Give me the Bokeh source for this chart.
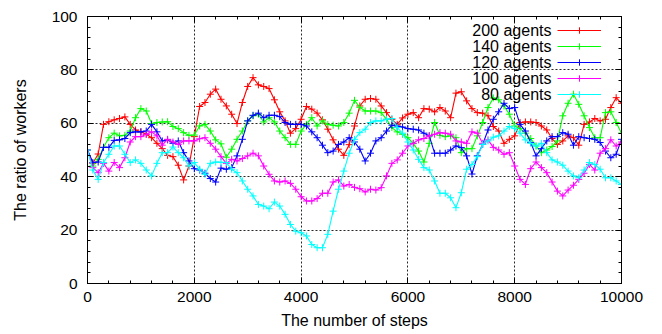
from bokeh.plotting import figure
from bokeh.models import Range1d, LinearAxis, SingleIntervalTicker, Legend, LegendItem, Label
from bokeh.embed import file_html
from bokeh.resources import INLINE

steps = list(range(0, 10001, 100))

agents_200 = [50, 45, 48.5, 59.6, 60.6, 61.3, 61.8, 62.4, 59.6, 57.5,
              56.8, 55.9, 54.6, 52.5, 50.5, 48, 47.5, 44.3, 38.8, 44,
              55, 66.3, 67.8, 70.9, 72.8, 69, 66.5, 63.4, 59.9, 67.8,
              73.8, 77.1, 74.4, 73.8, 73, 68.8, 64.3, 60.9, 56.3, 58,
              61.5, 66.3, 65.3, 63.8, 61.3, 57.8, 53.8, 50.3, 48, 52,
              59, 66.5, 69, 69.3, 69, 66.5, 64, 61.5, 59.6, 62,
              63.4, 64, 62.1, 65.5, 65.3, 64.3, 65.9, 64.6, 62.1, 71.3,
              71.8, 68.4, 65.5, 64, 63.8, 62.8, 58.8, 57.1, 52.5, 54,
              55.3, 60.3, 60.5, 60.5, 60.3, 59, 57.5, 54.3, 52.1, 53.4,
              55.3, 54.6, 51.8, 59.6, 60.5, 61.8, 60.9, 61.5, 65.9, 69.6,
              67.5]

agents_140 = [50, 44, 46.5, 51, 54.6, 56.3, 55.3, 55.5, 57.1, 62.1,
              65.5, 64.6, 59.9, 60.3, 60.5, 60.6, 58.8, 58, 56.5, 55.5,
              55.6, 59, 59.6, 57.1, 53.8, 52.3, 47.3, 50.3, 54, 57.1,
              60.9, 62.8, 63.4, 60.5, 62.1, 60.5, 57.1, 54.6, 52.1, 52.1,
              57.1, 59.6, 62.1, 59, 60.9, 59.6, 59.3, 59, 60.3, 63.8,
              68.6, 66, 64.6, 64.6, 64.6, 64, 61.5, 58.4, 56.8, 55.9,
              54.6, 52.5, 49.6, 45.5, 52.5, 60.3, 55.5, 55, 55.3, 54.6,
              49, 50.5, 50.5, 55.3, 60.3, 65.9, 69.5, 68.8, 66.5, 63.4,
              59, 58, 56.3, 54.3, 51.5, 49, 50, 51.3, 53.4, 62.8,
              67.5, 70.9, 67.1, 62.8, 58.4, 54.6, 54.6, 64, 64.3, 60.3,
              56.3]

agents_120 = [50, 45.3, 45.5, 51, 51, 53.6, 53.8, 54.3, 56.5, 56.8,
              56.8, 57.1, 59.6, 56.8, 53.4, 53.8, 52.5, 53.4, 49, 45.9,
              43, 42.5, 41.3, 39.3, 38, 43.2, 42.8, 43.4, 47.8, 54,
              60.9, 63, 63.8, 62.1, 63, 63, 62.5, 60.3, 59.6, 59.6,
              59.6, 59, 56.8, 54.6, 51.8, 49, 49.6, 52.1, 53, 54.6,
              53, 50.3, 45.9, 48.8, 53.4, 54.6, 57.1, 59.3, 59, 58.6,
              58, 57.8, 57.5, 56.3, 55.3, 48.8, 48.8, 48.8, 50, 51.5,
              50.9, 47.8, 41, 47.8, 52.1, 57.5, 61.5, 64.3, 67.5, 65.5,
              65.9, 59.6, 57.1, 52.8, 47.8, 50.5, 53.4, 55, 55, 56.5,
              55.9, 51.8, 55, 54.6, 54.3, 54, 52.8, 49.6, 47.1, 48.4,
              54]

agents_100 = [50, 43.4, 41.5, 45, 42.1, 45.3, 43.4, 47.1, 53, 55,
              55, 55.9, 56.8, 55.3, 51.8, 54, 53, 52.1, 53.4, 53.4,
              53.4, 54.2, 54.6, 52.5, 50.3, 47.5, 45, 46.5, 45.9, 46.8,
              47.8, 48.8, 47.8, 44, 40.9, 38.4, 38, 38.4, 37.5, 35.3,
              32.5, 30.9, 30.9, 31.8, 33.8, 33.8, 38, 38.8, 36.5, 37.1,
              36, 35.5, 34.3, 35.3, 35, 35.9, 40.3, 45, 46.3, 48.8,
              51.5, 52.5, 53.8, 54.3, 55.3, 55.9, 56.5, 56.3, 55.9, 53.4,
              53, 52.5, 56.8, 56.3, 52.5, 53.8, 51, 50, 48.4, 49,
              44, 39, 37.1, 43, 45.5, 43.4, 41.5, 38, 34.6, 32.8,
              35, 36.8, 39, 41.3, 44.6, 42.5, 48.8, 50.5, 53.8, 51.5,
              53]

agents_80 = [50, 42.5, 39, 45.3, 48.4, 51.5, 51.5, 48.4, 45.3, 46.3,
             45, 42.5, 40.3, 45, 49, 49, 51.1, 49, 47.1, 44,
             45.3, 42.8, 40.9, 45, 45.5, 45.4, 45.3, 42.8, 41.5, 38.4,
             35.3, 32.8, 29.6, 29, 28, 30.5, 29, 25.9, 22.1, 19.6,
             19, 17.8, 14.6, 13.4, 13.4, 18.4, 27.1, 35.3, 42.1, 48.8,
             54, 56.5, 57.8, 60.3, 60.9, 60.9, 61.5, 61.8, 58.4, 56.3,
             53, 50, 46.5, 43.4, 42.5, 38.4, 33.8, 33.8, 32.1, 28.4,
             34, 42.8, 44.6, 47.5, 52.1, 53.4, 54.8, 55.3, 57.1, 58.8,
             58, 56.3, 53.8, 52.5, 51.5, 52.5, 49, 46.3, 45.5, 44.3,
             42.1, 40.3, 39.6, 42.5, 45.3, 44.6, 42.8, 39.6, 39.6, 38.4,
             37.1]

series_names = ["200 agents", "140 agents", "120 agents", "100 agents", "80 agents"]
series_values = [agents_200, agents_140, agents_120, agents_100, agents_80]
series_colors = ["#ff0000", "#00ff00", "#0000ff", "#ff00ff", "#00ffff"]

x_ticks_interval = 2000
y_ticks_interval = 20

FONT = "Liberation Sans"

p = figure(width=662, height=334, output_backend="svg", toolbar_location=None,
           x_range=Range1d(0, 10000), y_range=Range1d(0, 100),
           min_border_left=87, min_border_right=41, min_border_top=16, min_border_bottom=51,
           x_axis_label="The number of steps", y_axis_label="The ratio of workers")
p.background_fill_color = "white"
p.border_fill_color = "white"
p.outline_line_color = "black"
p.outline_line_width = 1

bottom_axis = p.below[0]
left_axis = p.left[0]

xt = SingleIntervalTicker(interval=x_ticks_interval, num_minor_ticks=5)
yt = SingleIntervalTicker(interval=y_ticks_interval, num_minor_ticks=5)
bottom_axis.ticker = xt
left_axis.ticker = yt
p.xgrid.ticker = xt
p.ygrid.ticker = yt

for g in (p.xgrid, p.ygrid):
    g.grid_line_color = "black"
    g.grid_line_dash = "2 2"
    g.grid_line_width = 1
    g.grid_line_alpha = 0.85

top_axis = LinearAxis(ticker=xt, major_label_text_font_size="1px",
                      major_label_text_color=None, major_label_standoff=0)
right_axis = LinearAxis(ticker=yt, major_label_text_font_size="1px",
                        major_label_text_color=None, major_label_standoff=0)
p.add_layout(top_axis, "above")
p.add_layout(right_axis, "right")

for ax in [bottom_axis, left_axis, top_axis, right_axis]:
    ax.axis_line_color = "black"
    ax.major_tick_line_color = "black"
    ax.minor_tick_line_color = "black"
    ax.major_tick_in = 6
    ax.major_tick_out = 0
    ax.minor_tick_in = 3
    ax.minor_tick_out = 0

for ax in [bottom_axis, left_axis]:
    ax.major_label_text_font = FONT
    ax.major_label_text_font_size = "15.5px"
    ax.major_label_text_color = "black"
    ax.axis_label_text_font = FONT
    ax.axis_label_text_font_size = "16px"
    ax.axis_label_text_font_style = "normal"
    ax.axis_label_text_color = "black"

bottom_axis.major_label_standoff = 8
bottom_axis.axis_label_standoff = 7
left_axis.major_label_standoff = 10
left_axis.axis_label_standoff = 20

items = []
for name, vals, color in zip(series_names, series_values, series_colors):
    lr = p.line(steps, vals, line_color=color, line_width=1.1)
    sr = p.scatter(steps, vals, marker="cross", size=7, line_color=color, line_width=1)
    items.append(LegendItem(label=" ", renderers=[lr, sr]))

leg = Legend(items=items, location=(470, 181), glyph_width=44, glyph_height=16,
             label_height=16, label_width=1, spacing=0, padding=0, margin=0,
             border_line_alpha=0, background_fill_alpha=0,
             label_text_font_size="6px", label_standoff=0)
p.add_layout(leg)

for i, name in enumerate(series_names):
    p.add_layout(Label(x=464, y=253 - 16 * i, x_units="screen", y_units="screen",
                       text=name, text_align="right", text_baseline="middle",
                       text_font=FONT, text_font_size="16px", text_color="black"))

open("out.html", "w").write(file_html(p, INLINE))
